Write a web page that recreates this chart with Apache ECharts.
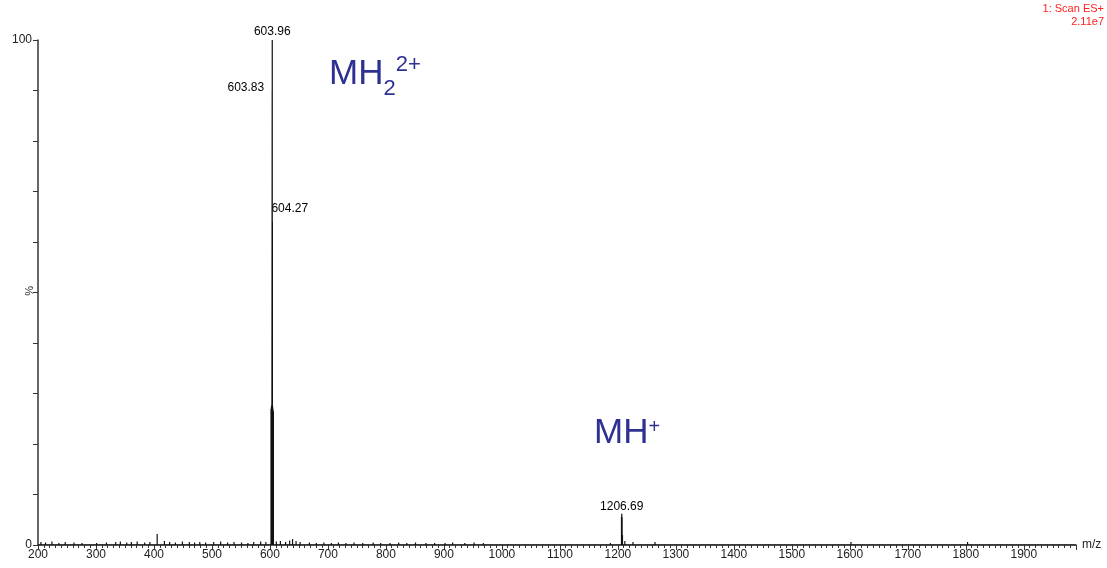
<!DOCTYPE html>
<html>
<head>
<meta charset="utf-8">
<script src="https://cdn.jsdelivr.net/npm/echarts@6/dist/echarts.min.js"></script>
<style>
  html, body { margin: 0; padding: 0; background: #fff; }
  #chart { width: 1107px; height: 568px; }
</style>
</head>
<body>
<div id="chart"></div>
<script>
// 主峰 (m/z, 相对强度 %)
const peakMz = [601.8, 602.6, 603.2, 603.83, 603.96, 604.27, 604.6, 605.2, 606.0, 1206.2, 1206.69, 1207.3, 1207.9]
const peakInt = [27, 27.5, 28, 90, 100, 64, 27.5, 27, 26.5, 5.6, 6.2, 5.5, 2]

// 基线噪声
const noiseMz = [205, 213, 224, 236, 247, 262, 276, 301, 318, 334, 342, 353, 361, 371, 384, 393, 405.5, 418, 427, 437, 449, 461, 470, 479, 489, 503, 515, 527, 538, 551, 562, 572, 584, 593, 611, 618, 627, 634, 639, 645, 652, 668, 680, 693, 706, 718, 731, 745, 760, 778, 791, 807, 822, 836, 851, 869, 884, 902, 915, 936, 952, 968, 983, 1010, 1038, 1062, 1086, 1110, 1136, 1162, 1187, 1212, 1226, 1264, 1290, 1330, 1372, 1410, 1450, 1500, 1552, 1602, 1650, 1700, 1750, 1803, 1850, 1900, 1950]
const noiseInt = [0.6, 0.5, 0.7, 0.4, 0.6, 0.5, 0.4, 0.4, 0.5, 0.6, 0.7, 0.5, 0.6, 0.7, 0.5, 0.6, 2.2, 0.8, 0.6, 0.5, 0.7, 0.6, 0.5, 0.6, 0.5, 0.6, 0.7, 0.5, 0.6, 0.5, 0.4, 0.6, 0.7, 0.6, 0.7, 0.8, 0.6, 0.9, 1.2, 0.8, 0.6, 0.5, 0.4, 0.5, 0.4, 0.5, 0.4, 0.5, 0.4, 0.5, 0.4, 0.4, 0.5, 0.4, 0.5, 0.4, 0.4, 0.4, 0.5, 0.4, 0.5, 0.4, 0.3, 0.3, 0.3, 0.3, 0.3, 0.3, 0.3, 0.3, 0.4, 0.8, 0.6, 0.6, 0.3, 0.3, 0.3, 0.3, 0.3, 0.3, 0.3, 0.6, 0.3, 0.3, 0.3, 0.6, 0.3, 0.3, 0.3]

// 标注的峰
const labelMz = [603.96, 603.83, 604.27, 1206.69]
const labelInt = [100, 90, 64, 6.2]

const xTicks = [200, 1990, 100]

const allMz = peakMz.concat(noiseMz)
const allInt = peakInt.concat(noiseInt)
const order = allMz.map((_, i) => i).sort((a, b) => allMz[a] - allMz[b])
const stickData = [[xTicks[0], 0]]
order.forEach(i => {
  stickData.push([allMz[i], 0], [allMz[i], allInt[i]], [allMz[i], 0])
})
stickData.push([xTicks[1], 0])

const labelPos = [
  { position: 'top', distance: 2 },
  { position: 'left', distance: 8, offset: [0, -3] },
  { position: 'right', distance: 0, offset: [-1, -13] },
  { position: 'top', distance: 1 }
]

const font = 'Liberation Sans, Arial, sans-serif'
const axisColor = '#333'
const blue = '#2e3192'

const option = {
  animation: false,
  grid: { left: 38, right: 31, top: 40, bottom: 23 },
  xAxis: {
    type: 'value',
    min: xTicks[0],
    max: xTicks[1],
    interval: xTicks[2],
    name: 'm/z',
    nameLocation: 'end',
    nameGap: 6,
    nameTextStyle: { color: '#222', fontSize: 12, fontFamily: font, padding: [6, 0, 0, 0] },
    axisLine: { onZero: false, lineStyle: { color: axisColor, width: 1.5 } },
    axisTick: { length: 5, lineStyle: { color: axisColor } },
    minorTick: { show: true, splitNumber: 10, length: 3, lineStyle: { color: axisColor } },
    axisLabel: {
      color: '#222', fontSize: 12, fontFamily: font, margin: 4,
      formatter: v => (v % 100 === 0 ? String(v) : '')
    },
    splitLine: { show: false }
  },
  yAxis: {
    type: 'value',
    min: 0,
    max: 100,
    interval: 10,
    axisLine: { show: true, lineStyle: { color: axisColor, width: 1.5 } },
    axisTick: { show: true, length: 5, lineStyle: { color: axisColor } },
    axisLabel: {
      color: '#222', fontSize: 12, fontFamily: font, margin: 6,
      formatter: v => (v === 0 || v === 100 ? String(v) : '')
    },
    splitLine: { show: false }
  },
  series: [
    {
      type: 'line',
      data: stickData,
      showSymbol: false,
      symbol: 'none',
      lineStyle: { color: '#111', width: 1.2 },
      silent: true
    },
    {
      type: 'scatter',
      symbolSize: 0,
      itemStyle: { opacity: 1 },
      data: labelMz.map((m, i) => ({
        value: [m, labelInt[i]],
        label: Object.assign({
          show: true,
          formatter: m.toFixed(2),
          color: '#000',
          fontSize: 12,
          fontFamily: font
        }, labelPos[i])
      })),
      silent: true
    }
  ],
  graphic: [
    {
      type: 'text',
      left: 329,
      top: 54,
      style: {
        text: '{m|MH}{s|2}{p|2+}',
        rich: {
          m: { fontSize: 35, fontFamily: font, fill: blue, verticalAlign: 'bottom' },
          s: { fontSize: 22, fontFamily: font, fill: blue, padding: [0, 0, -8, 0], verticalAlign: 'bottom' },
          p: { fontSize: 22, fontFamily: font, fill: blue, padding: [0, 0, 16, 0], verticalAlign: 'bottom' }
        }
      }
    },
    {
      type: 'text',
      left: 594,
      top: 416,
      style: {
        text: '{m|MH}{p|+}',
        rich: {
          m: { fontSize: 35, fontFamily: font, fill: blue, verticalAlign: 'bottom' },
          p: { fontSize: 20, fontFamily: font, fill: blue, padding: [0, 0, 14, 0], verticalAlign: 'bottom' }
        }
      }
    },
    {
      type: 'text',
      right: 3,
      top: 3,
      style: { text: '1: Scan ES+', fill: '#ff2020', fontSize: 11, fontFamily: font }
    },
    {
      type: 'text',
      right: 3,
      top: 16,
      style: { text: '2.11e7', fill: '#ff2020', fontSize: 11, fontFamily: font }
    },
    {
      type: 'text',
      left: 24,
      top: 286,
      rotation: Math.PI / 2,
      style: { text: '%', fill: '#222', fontSize: 11, fontFamily: font }
    }
  ]
}

const myChart = echarts.init(document.getElementById('chart'))
option && myChart.setOption(option)
</script>
</body>
</html>
